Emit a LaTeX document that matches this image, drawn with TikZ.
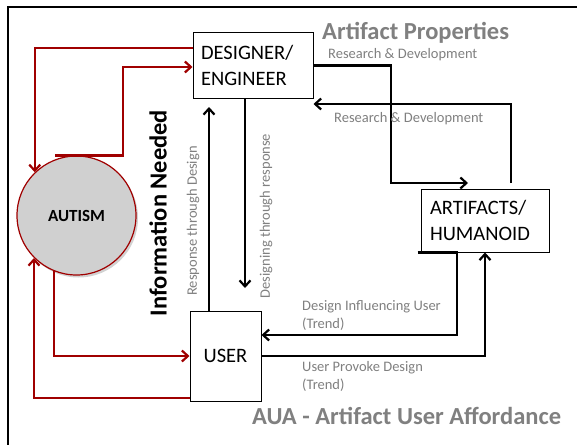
\documentclass[tikz,border=0pt]{standalone}
\usepackage{fontspec}
\setmainfont{Carlito}
\usetikzlibrary{arrows.meta,shadows}
\definecolor{dred}{HTML}{A00000}
\definecolor{lgray}{HTML}{808080}
\definecolor{cfill}{HTML}{D0D0D0}
\begin{document}
\begin{tikzpicture}[x=1pt,y=-1pt,
  box/.style={draw=black, line width=1pt, fill=white, inner ysep=0pt},
  boxtxt/.style={font=\fontsize{20.5}{25.5}\selectfont},
  blk/.style={draw=black, line width=2.2pt, -{Straight Barb[length=6pt,width=11pt]}},
  rd/.style={draw=dred, line width=2.2pt, -{Straight Barb[length=6pt,width=11pt]}},
  small/.style={text=lgray, font=\fontsize{14.5}{17}\selectfont, inner sep=0pt},
  big/.style={text=lgray, font=\bfseries\fontsize{24.5}{28}\selectfont, inner sep=0pt},
]
\useasboundingbox (0,0) rectangle (577,444);
\fill[white] (0,0) rectangle (577,444);
\draw[line width=2pt] (8,460) -- (8,7) -- (600,7);

% nodes
\node[box, boxtxt, inner xsep=8pt, text width=104pt, minimum height=65pt, align=left] (des) at (253,65.5) {DESIGNER/\\ENGINEER};
\node[box, boxtxt, inner xsep=9pt, text width=110pt, minimum height=63pt, align=left] (art) at (485,220.5) {ARTIFACTS/\\HUMANOID};
\node[box, boxtxt, minimum width=71pt, minimum height=90pt, inner sep=0pt] (user) at (225.5,356) {USER};
\node[circle, draw=dred, line width=1.2pt, fill=cfill, minimum size=119pt, inner sep=0pt,
      drop shadow={shadow xshift=2pt, shadow yshift=-2.5pt, opacity=0.35},
      font=\bfseries\fontsize{17}{20}\selectfont] (circ) at (76.5,215.5) {AUTISM};

% free ends
\coordinate (a1) at (468,183);
\coordinate (a2) at (511,183);
\coordinate (u1) at (209,107);
\coordinate (d1) at (245,288);

% black connectors
\draw[blk] (des.east) -| (391,183) -- (a1);
\draw[blk] (a2) |- (des.east |- 0,104);
\draw[blk] ([xshift=-3pt]art.south west) -| (457,335) -- (user.east |- 0,335);
\draw[blk] (user.east) -| (art.south);
\draw[blk] (user.north -| u1) -- (u1);
\draw[blk] (des.south -| d1) -- (d1);

% red connectors
\draw[rd] (des.west |- 0,48) -| (circ.134.3);
\draw[rd] (circ.north -| 55,0) -| (123,67) -- (des.west |- 0,67);
\draw[rd] (circ.248) |- (user.west);
\draw[rd] (user.west |- 0,398) -| (circ.225.7);

% labels
\node[big, anchor=base west] (tap) at (322,40) {Artifact Properties};
\node[small, anchor=base west] (trd1) at (328,59) {Research \& Development};
\node[small, anchor=base west] (trd2) at (334,122.5) {Research \& Development};
\node[small, anchor=base west] (tdi1) at (302,310.5) {Design Influencing User};
\node[small, anchor=base west] (tdi2) at (302,328.5) {(Trend)};
\node[small, anchor=base west] (tup1) at (302,371.5) {User Provoke Design};
\node[small, anchor=base west] (tup2) at (302,389.5) {(Trend)};
\node[big, anchor=base west] (taua) at (252,424) {AUA - Artifact User Affordance};
\node[rotate=90, inner sep=0pt, font=\bfseries\fontsize{24.5}{28}\selectfont] (tinf) at (158,213) {Information Needed};
\node[small, rotate=90] (trtd) at (193,221) {Response through Design};
\node[small, rotate=90] (tdtr) at (266,216) {Designing through response};
\end{tikzpicture}
\end{document}
